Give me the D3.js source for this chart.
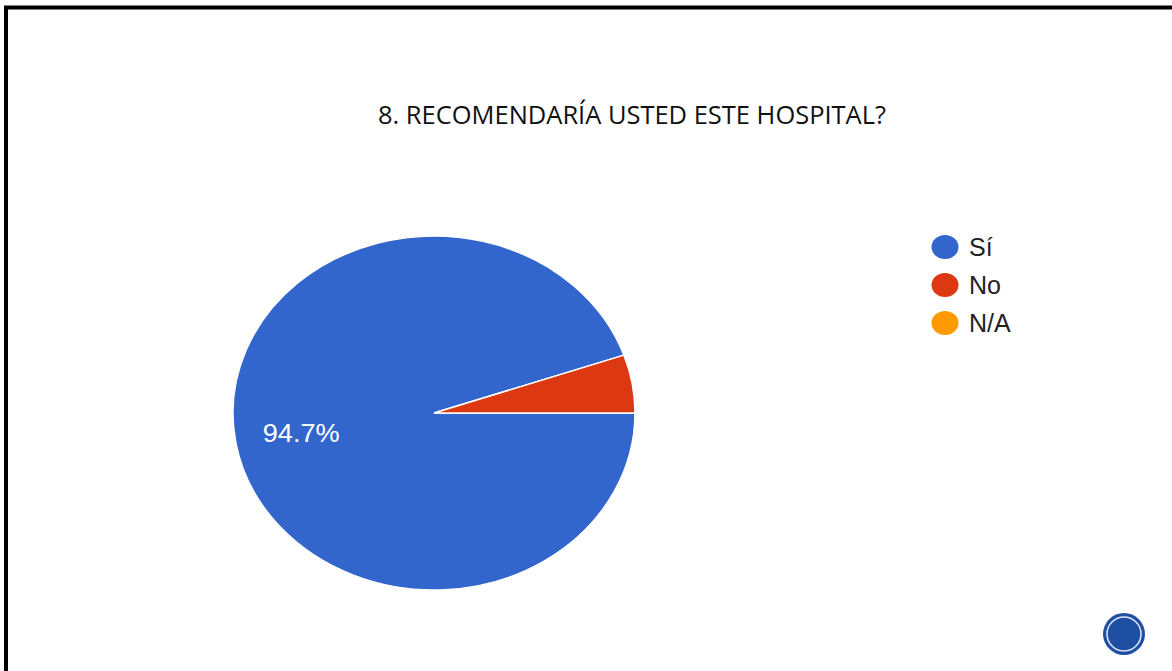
<!DOCTYPE html>
<html>
<head>
<meta charset="utf-8">
<script src="https://cdn.jsdelivr.net/npm/d3@7"></script>
<style>
  body { margin: 0; background: #fff; }
  svg { display: block; }
</style>
</head>
<body>
<svg width="1172" height="671"></svg>
<script>
const categories = ['Sí', 'No', 'N/A'];
const values = [94.7, 5.3, 0];
const colors = ['#3366cc', '#dc3912', '#ff9900'];
const title = '8. RECOMENDARÍA USTED ESTE HOSPITAL?';

const svg = d3.select('svg');

// marco del slide
svg.append('path')
    .attr('d', 'M6,671 V7.5 H1172')
    .attr('fill', 'none')
    .attr('stroke', '#000')
    .attr('stroke-width', 4);

svg.append('text')
    .attr('x', 632)
    .attr('y', 124)
    .attr('text-anchor', 'middle')
    .attr('font-family', 'Open Sans, sans-serif')
    .attr('font-size', 25)
    .attr('fill', '#111')
    .attr('textLength', 508)
    .attr('lengthAdjust', 'spacingAndGlyphs')
    .text(title);

const data = categories.map((c, i) => ({ name: c, value: values[i], color: colors[i] }));

const cx = 434, cy = 413, rx = 201, ry = 177;

const pie = d3.pie().sort(null).value(d => d.value)
    .startAngle(Math.PI / 2).endAngle(Math.PI / 2 + 2 * Math.PI);
const arc = d3.arc().innerRadius(0).outerRadius(1);
const labelArc = d3.arc().innerRadius(0.67 * 2).outerRadius(0); // centroide a 0.67

// pie estirado (elipse)
const g = svg.append('g').attr('transform', `translate(${cx},${cy}) scale(${rx},${ry})`);

g.selectAll('path').data(pie(data).filter(d => d.value > 0))
    .enter().append('path')
    .attr('d', arc)
    .attr('fill', d => d.data.color)
    .attr('stroke', '#fff')
    .attr('stroke-width', 1.5)
    .attr('vector-effect', 'non-scaling-stroke');

// etiqueta del trozo grande
const total = d3.sum(values);
svg.selectAll('text.pct')
    .data(pie(data).filter(d => d.value / total > 0.1))
    .enter().append('text')
    .attr('class', 'pct')
    .attr('x', d => cx + labelArc.centroid(d)[0] * rx)
    .attr('y', d => cy + labelArc.centroid(d)[1] * ry)
    .attr('dy', '0.36em')
    .attr('text-anchor', 'middle')
    .attr('font-family', 'Liberation Sans, Arial, sans-serif')
    .attr('font-size', 25)
    .attr('textLength', 77)
    .attr('lengthAdjust', 'spacingAndGlyphs')
    .attr('fill', '#fff')
    .text(d => d.data.value.toFixed(1) + '%');

// leyenda
const legend = svg.append('g').attr('transform', 'translate(945,247)');
const item = legend.selectAll('g').data(data).enter().append('g')
    .attr('transform', (d, i) => `translate(0,${i * 38})`);
item.append('ellipse')
    .attr('rx', 13.5).attr('ry', 12)
    .attr('fill', d => d.color);
item.append('text')
    .attr('x', 24).attr('y', 9)
    .attr('font-family', 'Liberation Sans, Arial, sans-serif')
    .attr('font-size', 25)
    .attr('fill', '#222')
    .text(d => d.name);

// logo abajo a la derecha
svg.append('circle').attr('cx', 1124).attr('cy', 634).attr('r', 21).attr('fill', '#1f4fa3');
svg.append('circle').attr('cx', 1124).attr('cy', 634).attr('r', 17)
    .attr('fill', 'none').attr('stroke', '#dfe7f5').attr('stroke-width', 1.5);
</script>
</body>
</html>
